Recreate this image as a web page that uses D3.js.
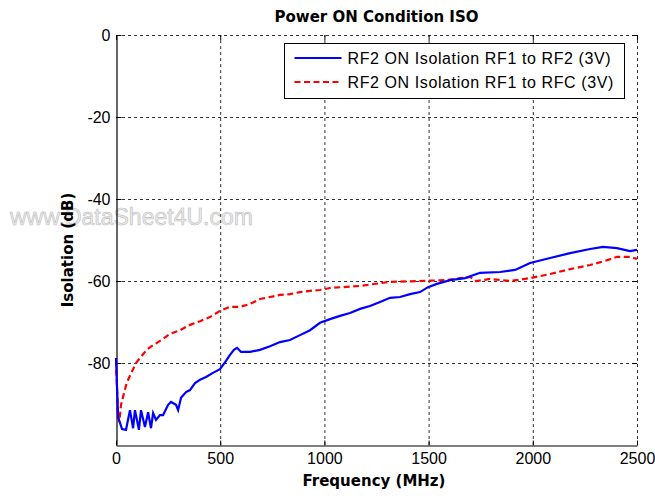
<!DOCTYPE html>
<html>
<head>
<meta charset="utf-8">
<script src="https://cdnjs.cloudflare.com/ajax/libs/d3/7.8.5/d3.min.js"></script>
<style>
  body { margin: 0; background: #fff; }
</style>
</head>
<body>
<div id="container"></div>
<script>
// ******* Data *******
var freqBlue = [0, 10, 29, 48, 67, 82, 91, 110, 120, 139, 154, 168, 178, 192, 211, 226, 250, 264, 288, 298, 312, 336, 355, 379, 403, 432, 465, 499, 528, 547, 566, 581, 600, 643, 691, 739, 787, 835, 883, 931, 979, 1027, 1075, 1123, 1171, 1219, 1267, 1315, 1363, 1411, 1459, 1497, 1540, 1603, 1675, 1747, 1843, 1915, 1987, 2083, 2179, 2275, 2337, 2404, 2466, 2500];
var isoBlue = [-78.8, -93.2, -96.1, -96.3, -91.5, -95.9, -91.5, -96.3, -91.5, -95.6, -92.0, -95.9, -92.2, -93.9, -92.7, -92.7, -90.2, -89.5, -90.2, -91.5, -88.5, -87.1, -86.6, -84.9, -84.1, -83.4, -82.4, -81.5, -79.5, -78.0, -76.8, -76.3, -77.3, -77.3, -76.8, -75.9, -74.9, -74.4, -73.2, -72.0, -70.2, -69.3, -68.5, -67.8, -66.8, -66.1, -65.1, -64.1, -63.9, -63.2, -62.7, -61.5, -60.7, -59.8, -59.3, -58.0, -57.8, -57.3, -55.6, -54.4, -53.2, -52.2, -51.7, -52.0, -52.7, -52.4];

var freqRed = [0, 10, 16, 24, 51, 75, 99, 123, 147, 171, 211, 259, 307, 355, 403, 451, 499, 547, 595, 643, 691, 739, 787, 835, 883, 931, 979, 1027, 1171, 1315, 1459, 1579, 1651, 1699, 1727, 1795, 1891, 1987, 2083, 2179, 2275, 2347, 2404, 2466, 2500];
var isoRed = [-79.3, -93.4, -94.4, -90.2, -84.9, -82.2, -79.8, -78.3, -76.8, -75.9, -74.6, -72.9, -72.0, -70.7, -69.8, -68.8, -67.3, -66.3, -66.3, -65.6, -64.4, -63.9, -63.4, -63.2, -62.7, -62.4, -62.2, -61.7, -61.2, -60.2, -60.0, -59.8, -59.3, -59.0, -60.0, -59.5, -60.0, -59.3, -58.3, -57.1, -56.1, -55.1, -54.1, -54.1, -54.6];

var xTicks = [0, 500, 1000, 1500, 2000, 2500];
var yTicks = [0, -20, -40, -60, -80];
var seriesNames = ["RF2 ON Isolation RF1 to RF2 (3V)", "RF2 ON Isolation RF1 to RFC (3V)"];
var seriesColors = ["#0000ff", "#ff0000"];

var width = 655, height = 496;
var margin = {left: 116, right: 18, top: 35, bottom: 51};

var svg = d3.select("#container").append("svg")
  .attr("width", width)
  .attr("height", height)
  .style("display", "block")
  .style("background", "#fff");

// watermark sits beneath everything
svg.append("text")
  .attr("x", 10)
  .attr("y", 225)
  .style("font-family", "'Liberation Sans', Arial, sans-serif")
  .style("font-size", "23px")
  .style("fill", "#ececec")
  .style("stroke", "#bdbdbd")
  .style("stroke-width", 0.6)
  .text("www.DataSheet4U.com");

var x = d3.scaleLinear().domain([0, 2500]).range([margin.left, width - margin.right]);
var y = d3.scaleLinear().domain([-100, 0]).range([height - margin.bottom, margin.top]);

// ******* grid (dotted) *******
var grid = svg.append("g").attr("class", "grid")
  .style("stroke", "#333")
  .style("stroke-width", 1)
  .style("stroke-dasharray", "3,3");

grid.selectAll(".vg").data(xTicks.filter(function(d) { return d > 0; })).enter().append("line")
  .attr("x1", function(d) { return x(d) + 0.5; })
  .attr("x2", function(d) { return x(d) + 0.5; })
  .attr("y1", y(-100))
  .attr("y2", y(0));

grid.selectAll(".hg").data(yTicks).enter().append("line")
  .attr("x1", x(0))
  .attr("x2", x(2500))
  .attr("y1", function(d) { return y(d) + 0.5; })
  .attr("y2", function(d) { return y(d) + 0.5; });

// ******* axes *******
var plain = function(d) { return String(d); }; // keep ascii hyphen, no thousands comma
var xAxis = d3.axisBottom(x).tickValues(xTicks).tickFormat(plain).tickSizeInner(-5).tickSizeOuter(0).tickPadding(7);
var yAxis = d3.axisLeft(y).tickValues(yTicks).tickFormat(plain).tickSizeInner(-5).tickSizeOuter(0).tickPadding(6);

var gx = svg.append("g")
  .attr("transform", "translate(0," + (y(-100) + 0.5) + ")")
  .call(xAxis);
var gy = svg.append("g")
  .attr("transform", "translate(" + (x(0) + 0.5) + ",0)")
  .call(yAxis);

[gx, gy].forEach(function(g) {
  g.select(".domain").attr("stroke", "#000").attr("stroke-width", 1.2);
  g.selectAll(".tick line").attr("stroke", "#000");
  g.selectAll(".tick text")
    .style("font-family", "'Liberation Sans', Arial, sans-serif")
    .style("font-size", "16px")
    .attr("fill", "#000");
});

// inward ticks on top and right edges too
svg.append("g").selectAll("line").data(xTicks).enter().append("line")
  .attr("x1", function(d) { return x(d) + 0.5; })
  .attr("x2", function(d) { return x(d) + 0.5; })
  .attr("y1", y(0))
  .attr("y2", y(0) + 5)
  .attr("stroke", "#000");
svg.append("g").selectAll("line").data(yTicks).enter().append("line")
  .attr("x1", x(2500) - 5)
  .attr("x2", x(2500))
  .attr("y1", function(d) { return y(d) + 0.5; })
  .attr("y2", function(d) { return y(d) + 0.5; })
  .attr("stroke", "#000");

// ******* series *******
var line = d3.line()
  .x(function(d) { return x(d[0]); })
  .y(function(d) { return y(d[1]); });

var redPts = freqRed.map(function(f, i) { return [f, isoRed[i]]; });
var bluePts = freqBlue.map(function(f, i) { return [f, isoBlue[i]]; });

svg.append("path")
  .attr("d", line(redPts))
  .attr("fill", "none")
  .attr("stroke", seriesColors[1])
  .attr("stroke-width", 2.2)
  .attr("stroke-dasharray", "6,3.5");

svg.append("path")
  .attr("d", line(bluePts))
  .attr("fill", "none")
  .attr("stroke", seriesColors[0])
  .attr("stroke-width", 2.2);

// ******* legend *******
var legend = svg.append("g").attr("transform", "translate(284.5,43.5)");
legend.append("rect")
  .attr("width", 340)
  .attr("height", 55)
  .attr("fill", "#fff")
  .attr("stroke", "#000")
  .attr("stroke-width", 1);

seriesNames.forEach(function(name, i) {
  var ly = 14.5 + i * 24;
  legend.append("line")
    .attr("x1", 10).attr("x2", 57)
    .attr("y1", ly).attr("y2", ly)
    .attr("stroke", seriesColors[i])
    .attr("stroke-width", 2.2)
    .attr("stroke-dasharray", i == 1 ? "6,3.5" : null);
  legend.append("text")
    .attr("x", 63)
    .attr("y", ly + 6)
    .style("font-family", "'Liberation Sans', Arial, sans-serif")
    .style("font-size", "16px")
    .style("letter-spacing", "0.6px")
    .attr("fill", "#000")
    .text(name);
});

// ******* titles *******
svg.append("text")
  .attr("x", (x(0) + x(2500)) / 2)
  .attr("y", 22)
  .attr("text-anchor", "middle")
  .style("font-family", "'DejaVu Sans', Verdana, sans-serif")
  .style("font-weight", "bold")
  .style("font-size", "15px")
  .text("Power ON Condition ISO");

svg.append("text")
  .attr("x", 374)
  .attr("y", 486)
  .attr("text-anchor", "middle")
  .style("font-family", "'DejaVu Sans', Verdana, sans-serif")
  .style("font-weight", "bold")
  .style("font-size", "15px")
  .text("Frequency (MHz)");

svg.append("text")
  .attr("text-anchor", "middle")
  .attr("transform", "translate(73,250)rotate(-90)")
  .style("font-family", "'DejaVu Sans', Verdana, sans-serif")
  .style("font-weight", "bold")
  .style("font-size", "15px")
  .text("Isolation (dB)");
</script>
</body>
</html>
